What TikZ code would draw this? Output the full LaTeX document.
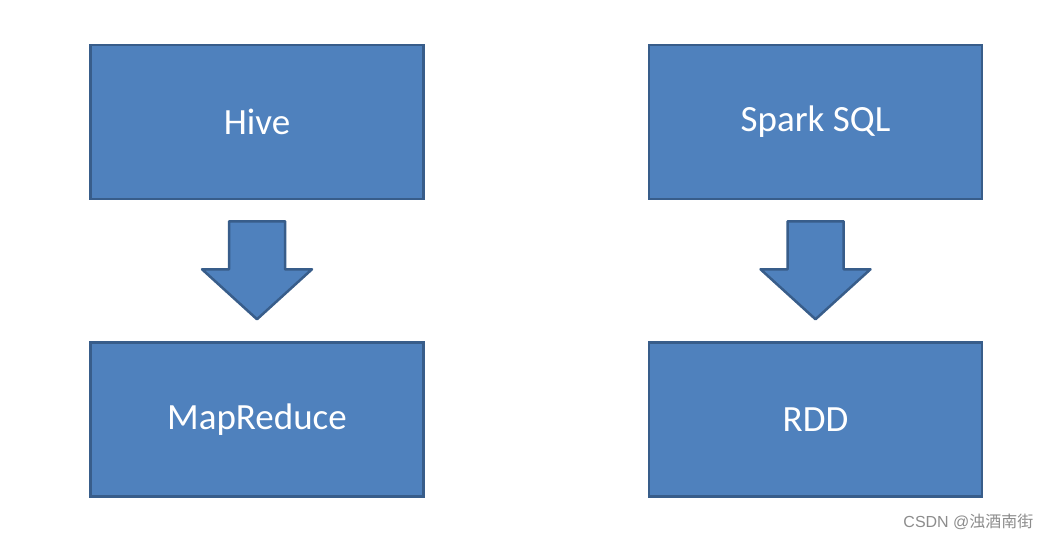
\documentclass[tikz,border=0pt]{standalone}
\usepackage{fontspec}
\setmainfont{Carlito}
\newfontfamily\cjkfont{Noto Sans CJK SC}
\newfontfamily\markfont{Liberation Sans}
\usepackage{tikz}
\usetikzlibrary{positioning,calc}

\definecolor{boxfill}{HTML}{4F81BD}
\definecolor{boxline}{HTML}{385D8A}

% block arrow between two boxes
\newcommand{\blockarrow}[2]{%
  \draw[arrowshape]
    ($(#1.south)+(-28pt,-21pt)$) -- ($(#1.south)+(28pt,-21pt)$) --
    ($(#1.south)+(28pt,-69pt)$) -- ($(#1.south)+(55pt,-69pt)$) --
    ($(#2.north)+(0,22pt)$) --
    ($(#1.south)+(-55pt,-69pt)$) -- ($(#1.south)+(-28pt,-69pt)$) -- cycle;}

\begin{document}
\begin{tikzpicture}[
    node distance=141pt and 223pt,
    layerbox/.style={rectangle, draw=boxline, fill=boxfill, line width=2.5pt,
      minimum width=333pt, minimum height=154pt, inner sep=0pt,
      text=white, font=\fontsize{37}{44}\selectfont},
    arrowshape/.style={draw=boxline, fill=boxfill, line width=2.5pt, line join=round}
]
\useasboundingbox (0,0) rectangle (1051pt,-541pt);

\node[layerbox] (hive) at (257pt,-122pt) {Hive};
\node[layerbox] (mapreduce) [below=of hive] {MapReduce};
\node[layerbox] (sparksql) [right=of hive] {Spark SQL};
\node[layerbox] (rdd) [below=of sparksql] {RDD};

\blockarrow{hive}{mapreduce}
\blockarrow{sparksql}{rdd}

\node[text=black!45, font=\markfont\fontsize{16}{19}\selectfont, anchor=east] (mark) at (1037pt,-522pt)
  {CSDN @{\cjkfont 浊酒南街}};
\end{tikzpicture}
\end{document}
